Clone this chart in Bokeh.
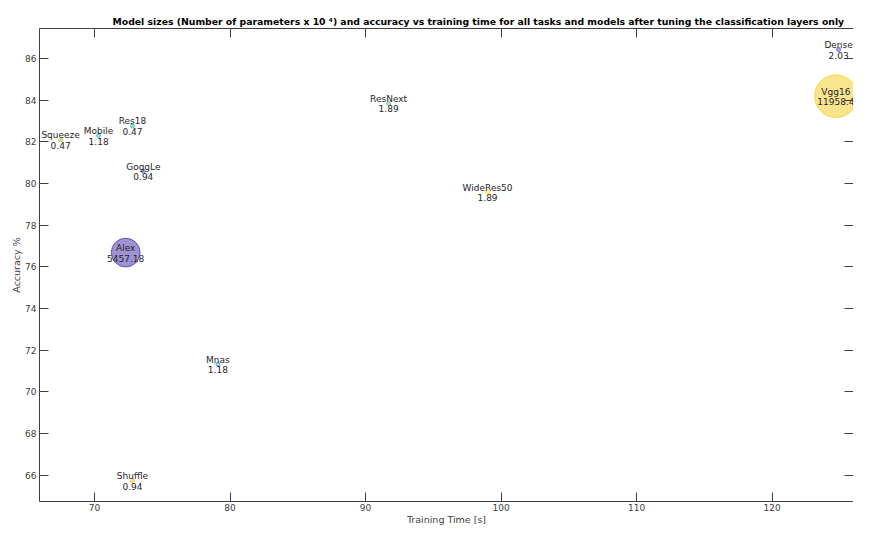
from bokeh.plotting import figure
from bokeh.models import Range1d, LinearAxis, ColumnDataSource, FixedTicker, Title
from bokeh.embed import file_html
from bokeh.resources import INLINE
from bokeh.core.properties import value

# ---- data ----
models = ["Squeeze", "Mobile", "Res18", "GoggLe", "ResNext", "WideRes50",
          "Alex", "Mnas", "Shuffle", "Dense", "Vgg16"]
train_time = [67.5, 70.3, 72.8, 73.6, 91.7, 99.0, 72.3, 79.1, 72.8, 124.9, 124.7]
accuracy = [82.09, 82.30, 82.76, 80.59, 83.84, 79.57, 76.68, 71.32, 65.72, 86.43, 84.19]
params = [0.47, 1.18, 0.47, 0.94, 1.89, 1.89, 5457.18, 1.18, 0.94, 2.03, 11958.4]
param_labels = ["0.47", "1.18", "0.47", "0.94", "1.89", "1.89",
                "5457.18", "1.18", "0.94", "2.03", "11958.4"]
colors = ["#a5c83a", "#38b4e0", "#22b8c0", "#4d6ff0", "#5cc890", "#f5e620",
          "#3e26a8", "#3a9cf5", "#f5b83a", "#5050e0", "#f5cc20"]
x_ticks = [70, 80, 90, 100, 110, 120]
y_ticks = [66, 68, 70, 72, 74, 76, 78, 80, 82, 84, 86]

sizes = [max(4.0, 0.39 * (v ** 0.5)) for v in params]

src = ColumnDataSource(dict(x=train_time, y=accuracy, name=models,
                            val=param_labels, color=colors, size=sizes))

FONT = "DejaVu Sans"
AX = "#404040"

p = figure(width=853, height=527, output_backend="svg", toolbar_location=None,
           x_range=Range1d(65.94, 126.0), y_range=Range1d(64.73, 87.44),
           min_border_left=39, min_border_right=0, min_border_top=28,
           min_border_bottom=10, x_axis_location=None, y_axis_location=None)
p.outline_line_color = None
p.xgrid.visible = False
p.ygrid.visible = False
p.background_fill_color = "white"
p.border_fill_color = "white"


def style(ax, labels=True):
    ax.major_tick_in = 9
    ax.major_tick_out = 0
    ax.minor_tick_line_color = None
    ax.axis_line_color = AX
    ax.major_tick_line_color = AX
    ax.axis_line_width = 1
    ax.major_label_text_font = FONT
    ax.major_label_text_font_size = "9px"
    ax.major_label_text_color = AX
    ax.major_label_standoff = 2 if labels else 0
    ax.axis_label_text_font = FONT
    ax.axis_label_text_font_size = "9.5px"
    ax.axis_label_text_font_style = "normal"
    ax.axis_label_text_color = AX
    ax.axis_label_standoff = 0
    if not labels:
        ax.major_label_overrides = {t: "" for t in ax.ticker.ticks}


xb = LinearAxis(axis_label="Training Time [s]", ticker=FixedTicker(ticks=x_ticks))
style(xb)
p.add_layout(xb, "below")
yl = LinearAxis(axis_label="Accuracy %", ticker=FixedTicker(ticks=y_ticks))
style(yl)
yl.major_label_standoff = 3
p.add_layout(yl, "left")
xt = LinearAxis(ticker=FixedTicker(ticks=x_ticks))
style(xt, labels=False)
p.add_layout(xt, "above")
yr = LinearAxis(ticker=FixedTicker(ticks=y_ticks))
style(yr, labels=False)
yr.axis_line_color = None
p.add_layout(yr, "right")

title = Title(text="Model sizes (Number of parameters x 10 \u2074) and accuracy vs training time "
                   "for all tasks and models after tuning the classification layers only",
              text_font=FONT, text_font_size="9.3px", text_font_style="bold",
              text_color="#000000", align="left", offset=73, standoff=4)
p.add_layout(title, "above")

p.scatter("x", "y", source=src, size="size", fill_color="color", fill_alpha=0.5,
          line_color="color", line_alpha=0.7, line_width=1)

p.text("x", "y", text="name", source=src, text_font=value(FONT), text_font_size="9px",
       text_align="center", text_baseline="middle", y_offset=-4.5, text_color="#262626")
p.text("x", "y", text="val", source=src, text_font=value(FONT), text_font_size="9px",
       text_align="center", text_baseline="middle", y_offset=5.5, text_color="#262626")

open("out.html", "w").write(file_html(p, INLINE))
